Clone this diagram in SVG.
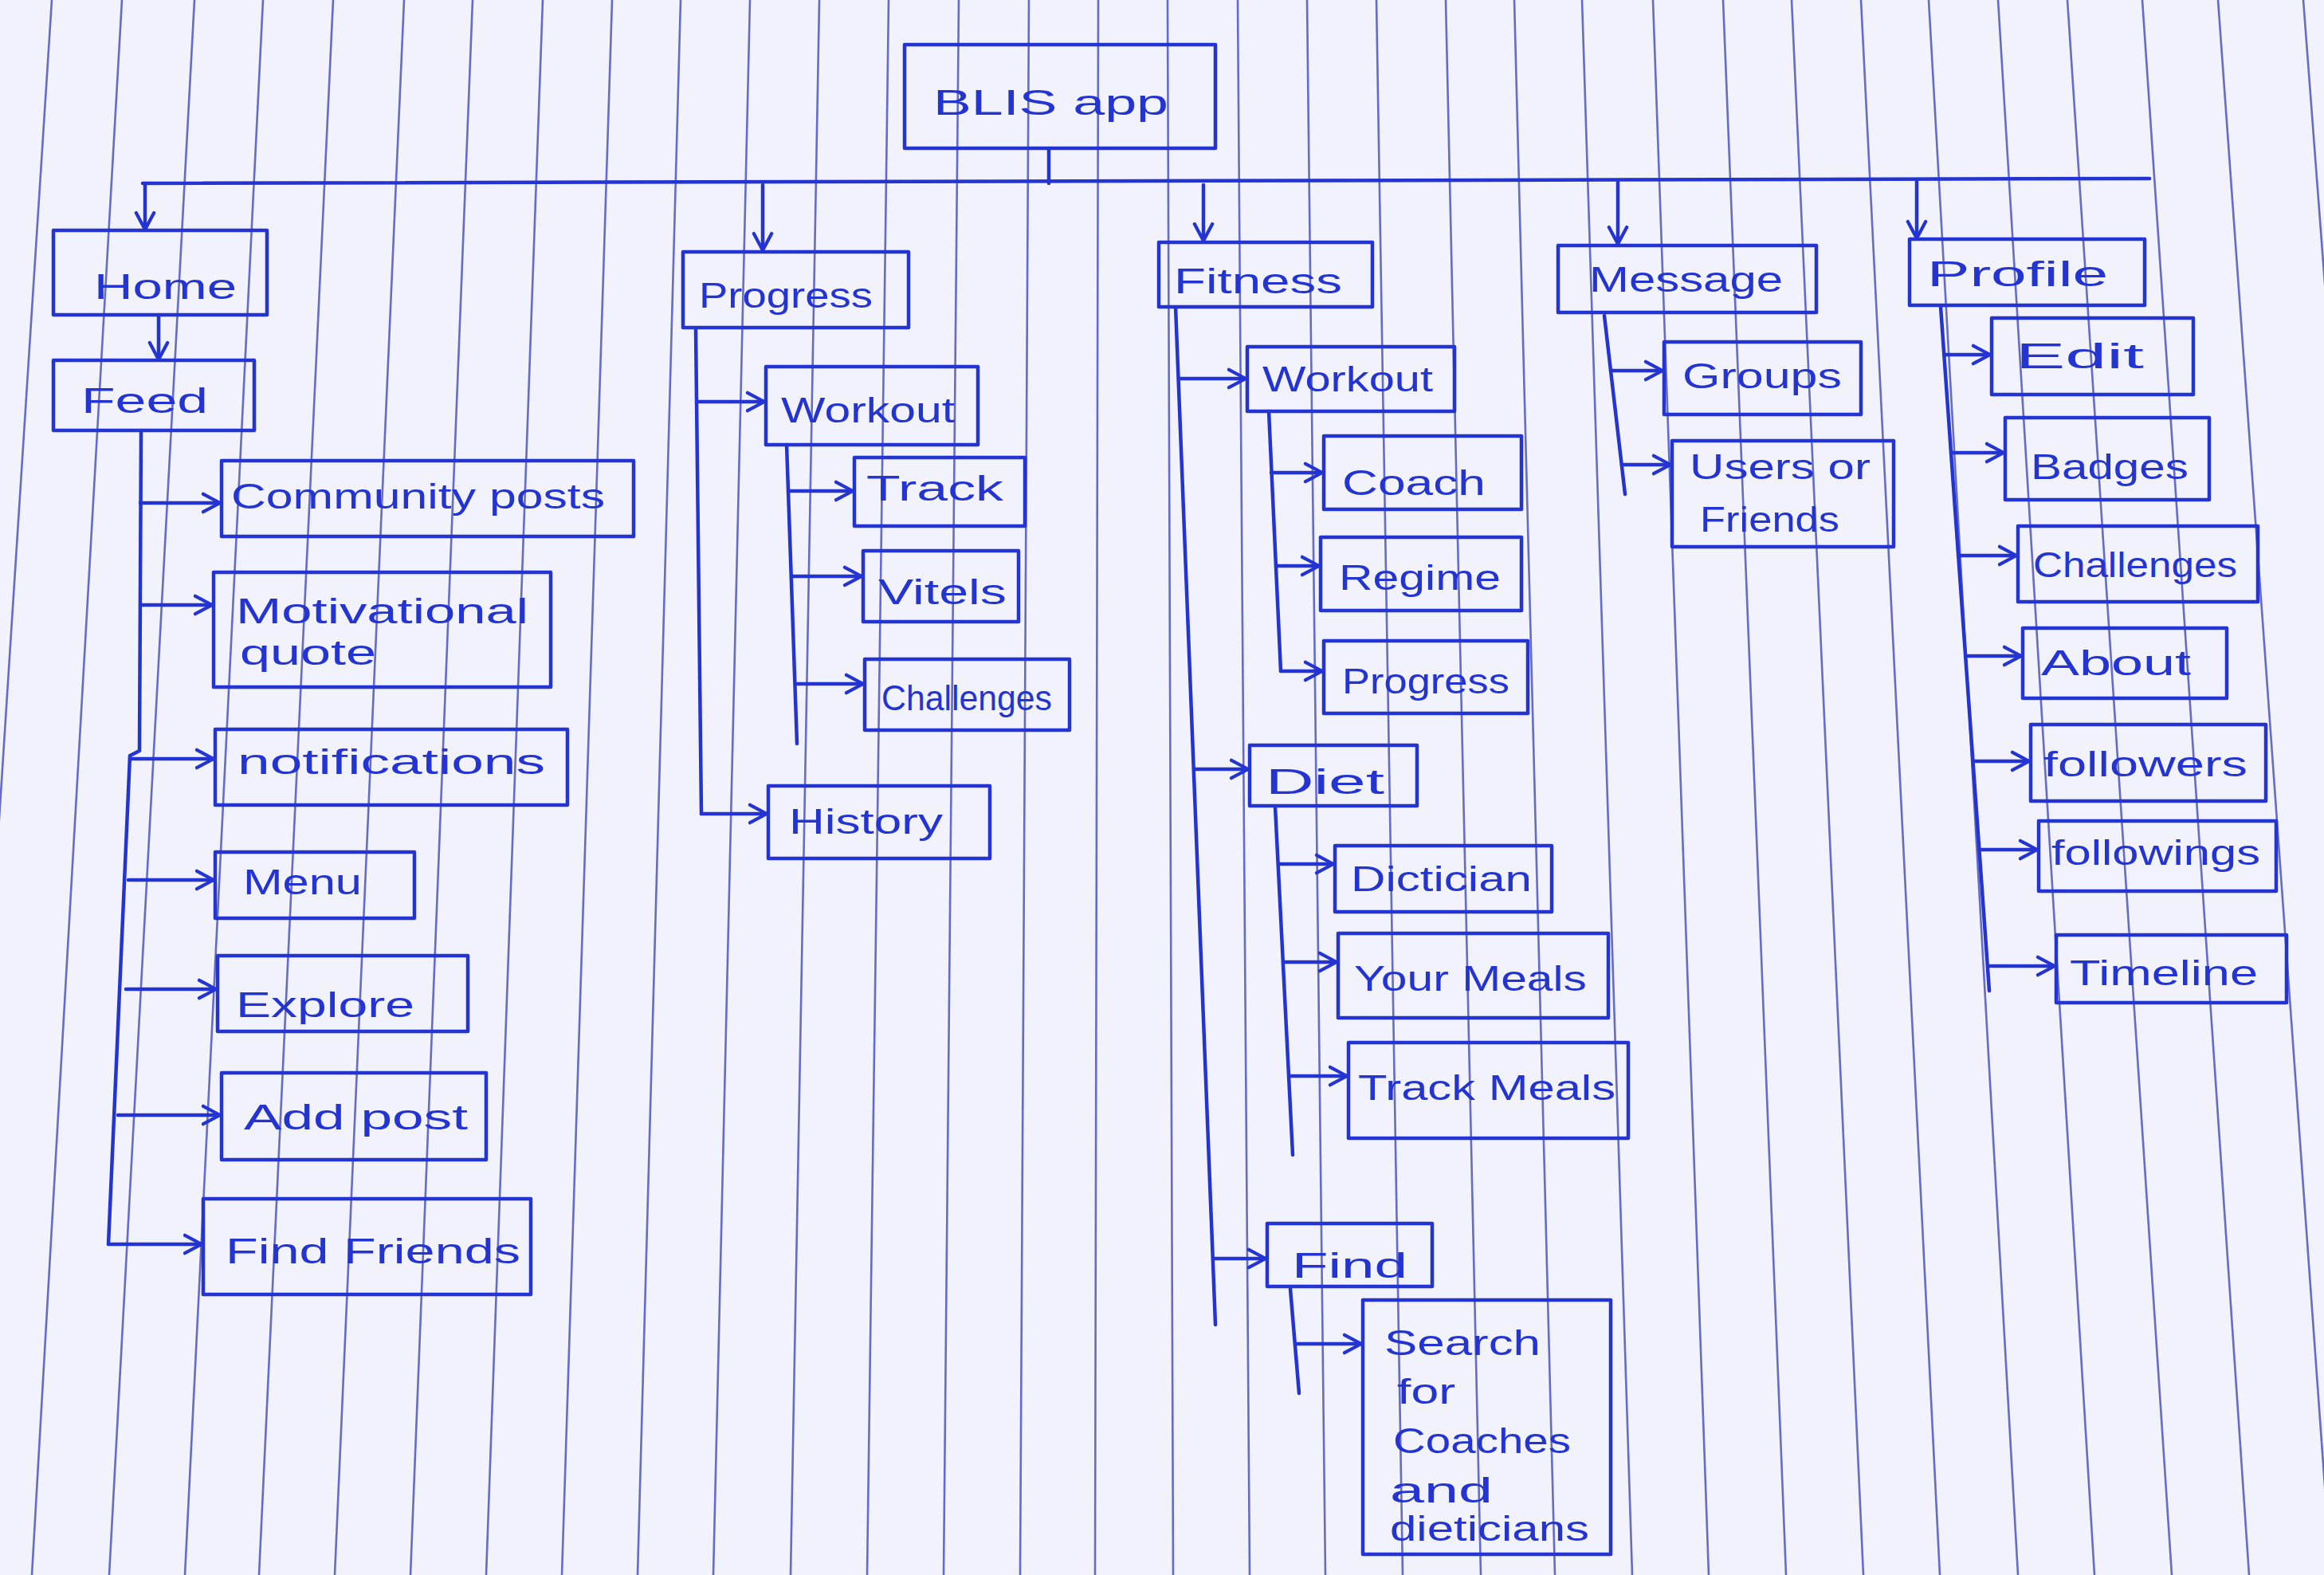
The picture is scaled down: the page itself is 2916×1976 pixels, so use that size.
<svg xmlns="http://www.w3.org/2000/svg" width="2916" height="1976" viewBox="0 0 2916 1976">
<defs>
<style>
.bg{fill:#f1f2fb}
.rule{stroke:#4b54c0;stroke-width:2.6;fill:none;opacity:0.85}
.box{fill:none;stroke:#2434d2;stroke-width:4.5;stroke-linejoin:round}
.t{font-family:"Liberation Sans",Arial,sans-serif;fill:#2434d2;font-size:44px}
.c{fill:none;stroke:#2434d2;stroke-width:4.5;stroke-linecap:round;stroke-linejoin:round}
.a{marker-end:url(#ah)}
</style>
<marker id="ah" viewBox="0 0 20 20" refX="18" refY="10" markerWidth="28" markerHeight="28" markerUnits="userSpaceOnUse" orient="auto">
<path d="M3,2 L18,10 L3,18" fill="none" stroke="#2434d2" stroke-width="3" stroke-linecap="round" stroke-linejoin="round"/>
</marker>
</defs>
<rect class="bg" x="0" y="0" width="2916" height="1976"/>
<g id="paper-rules">
<path class="rule" d="M65,0 L-62,1976 M153,0 L40,1976 M244,0 L137,1976 M330,0 L232,1976 M418,0 L325,1976 M507,0 L420,1976 M593,0 L515,1976 M681,0 L610,1976 M768,0 L705,1976 M854,0 L800,1976 M941,0 L895,1976 M1028,0 L992,1976 M1115,0 L1088,1976 M1203,0 L1184,1976 M1291,0 L1280,1976 M1378,0 L1374,1976 M1465,0 L1472,1976 M1553,0 L1568,1976 M1640,0 L1663,1976 M1727,0 L1760,1976 M1814,0 L1858,1976 M1900,0 L1951,1976 M1985,0 L2048,1976 M2074,0 L2144,1976 M2162,0 L2241,1976 M2248,0 L2338,1976 M2335,0 L2434,1976 M2420,0 L2532,1976 M2507,0 L2628,1976 M2594,0 L2725,1976 M2688,0 L2822,1976 M2783,0 L2925,1976 M2890,0 L3040,1976"/>
</g>
<g id="connectors">
<path class="c" d="M1316,186 L1316,230"/>
<path class="c" d="M179,230 L2697,224"/>
<path class="c a" d="M182,230 L182,288"/>
<path class="c a" d="M957,232 L957,314"/>
<path class="c a" d="M1510,232 L1510,302"/>
<path class="c a" d="M2030,228 L2030,306"/>
<path class="c a" d="M2405,226 L2405,299"/>
<path class="c a" d="M199,395 L199,451"/>
<path class="c" d="M177,540 L175,942 L163,948 L136,1561"/>
<path class="c a" d="M176,631 L276,631"/>
<path class="c a" d="M176,759 L266,759"/>
<path class="c a" d="M163,952 L268,952"/>
<path class="c a" d="M161,1104 L268,1104"/>
<path class="c a" d="M158,1241 L271,1241"/>
<path class="c a" d="M148,1399 L276,1399"/>
<path class="c a" d="M136,1561 L253,1561"/>
<path class="c" d="M873,414 L880,1021"/>
<path class="c a" d="M875,504 L959,504"/>
<path class="c a" d="M880,1021 L962,1021"/>
<path class="c" d="M987,558 L1000,933"/>
<path class="c a" d="M989,616 L1070,616"/>
<path class="c a" d="M993,723 L1081,723"/>
<path class="c a" d="M998,858 L1083,858"/>
<path class="c" d="M1475,385 L1525,1662"/>
<path class="c a" d="M1479,475 L1563,475"/>
<path class="c a" d="M1498,965 L1566,965"/>
<path class="c a" d="M1522,1579 L1588,1579"/>
<path class="c" d="M1592,516 L1607,842"/>
<path class="c a" d="M1595,593 L1659,593"/>
<path class="c a" d="M1601,710 L1655,710"/>
<path class="c a" d="M1607,842 L1659,842"/>
<path class="c" d="M1600,1012 L1622,1449"/>
<path class="c a" d="M1604,1084 L1673,1084"/>
<path class="c a" d="M1610,1207 L1677,1207"/>
<path class="c a" d="M1617,1350 L1690,1350"/>
<path class="c" d="M1619,1617 L1630,1748"/>
<path class="c a" d="M1625,1686 L1708,1686"/>
<path class="c" d="M2013,396 L2039,620"/>
<path class="c a" d="M2021,465 L2086,465"/>
<path class="c a" d="M2035,583 L2096,583"/>
<path class="c" d="M2435,385 L2496,1243"/>
<path class="c a" d="M2439,445 L2497,445"/>
<path class="c a" d="M2448,568 L2514,568"/>
<path class="c a" d="M2457,697 L2530,697"/>
<path class="c a" d="M2466,823 L2536,823"/>
<path class="c a" d="M2476,955 L2546,955"/>
<path class="c a" d="M2483,1066 L2556,1066"/>
<path class="c a" d="M2494,1212 L2578,1212"/>
</g>
<g id="node-blis-app"><rect class="box" x="1135" y="56" width="390" height="130"/><text class="t" x="1171" y="144" font-size="60" textLength="295" lengthAdjust="spacingAndGlyphs">BLIS app</text></g>
<g id="node-home"><rect class="box" x="67" y="289" width="268" height="106"/><text class="t" x="118" y="375" font-size="50" textLength="179" lengthAdjust="spacingAndGlyphs">Home</text></g>
<g id="node-feed"><rect class="box" x="67" y="452" width="252" height="88"/><text class="t" x="102" y="518" font-size="50" textLength="159" lengthAdjust="spacingAndGlyphs">Feed</text></g>
<g id="node-community-posts"><rect class="box" x="278" y="578" width="517" height="95"/><text class="t" x="290" y="638" textLength="469" lengthAdjust="spacingAndGlyphs">Community posts</text></g>
<g id="node-motivational-quote"><rect class="box" x="268" y="718" width="423" height="144"/><text class="t" x="296" y="782" textLength="367" lengthAdjust="spacingAndGlyphs">Motivational</text><text class="t" x="301" y="834" textLength="171" lengthAdjust="spacingAndGlyphs">quote</text></g>
<g id="node-notifications"><rect class="box" x="270" y="915" width="442" height="95"/><text class="t" x="298" y="971" textLength="386" lengthAdjust="spacingAndGlyphs">notifications</text></g>
<g id="node-menu"><rect class="box" x="270" y="1069" width="250" height="83"/><text class="t" x="305" y="1122" font-size="46" textLength="149" lengthAdjust="spacingAndGlyphs">Menu</text></g>
<g id="node-explore"><rect class="box" x="273" y="1199" width="314" height="95"/><text class="t" x="296" y="1276" font-size="46" textLength="224" lengthAdjust="spacingAndGlyphs">Explore</text></g>
<g id="node-add-post"><rect class="box" x="278" y="1346" width="332" height="109"/><text class="t" x="306" y="1417" font-size="46" textLength="281" lengthAdjust="spacingAndGlyphs">Add post</text></g>
<g id="node-find-friends"><rect class="box" x="255" y="1504" width="411" height="120"/><text class="t" x="283" y="1585" font-size="48" textLength="370" lengthAdjust="spacingAndGlyphs">Find Friends</text></g>
<g id="node-progress"><rect class="box" x="857" y="316" width="283" height="95"/><text class="t" x="877" y="386" font-size="48" textLength="218" lengthAdjust="spacingAndGlyphs">Progress</text></g>
<g id="node-progress-workout"><rect class="box" x="961" y="460" width="266" height="98"/><text class="t" x="980" y="530" font-size="42" textLength="218" lengthAdjust="spacingAndGlyphs">Workout</text></g>
<g id="node-track"><rect class="box" x="1072" y="574" width="214" height="86"/><text class="t" x="1087" y="628" font-size="46" textLength="172" lengthAdjust="spacingAndGlyphs">Track</text></g>
<g id="node-vitels"><rect class="box" x="1083" y="691" width="195" height="89"/><text class="t" x="1102" y="758" textLength="161" lengthAdjust="spacingAndGlyphs">Vitels</text></g>
<g id="node-progress-challenges"><rect class="box" x="1085" y="827" width="257" height="89"/><text class="t" x="1106" y="891" font-size="40" textLength="214" lengthAdjust="spacingAndGlyphs">Challenges</text></g>
<g id="node-history"><rect class="box" x="964" y="986" width="278" height="91"/><text class="t" x="990" y="1046" font-size="48" textLength="193" lengthAdjust="spacingAndGlyphs">History</text></g>
<g id="node-fitness"><rect class="box" x="1454" y="304" width="268" height="81"/><text class="t" x="1473" y="368" font-size="46" textLength="211" lengthAdjust="spacingAndGlyphs">Fitness</text></g>
<g id="node-fitness-workout"><rect class="box" x="1565" y="435" width="260" height="81"/><text class="t" x="1584" y="491" font-size="40" textLength="214" lengthAdjust="spacingAndGlyphs">Workout</text></g>
<g id="node-coach"><rect class="box" x="1661" y="547" width="248" height="92"/><text class="t" x="1684" y="621" textLength="180" lengthAdjust="spacingAndGlyphs">Coach</text></g>
<g id="node-regime"><rect class="box" x="1657" y="674" width="252" height="92"/><text class="t" x="1680" y="740" textLength="203" lengthAdjust="spacingAndGlyphs">Regime</text></g>
<g id="node-fitness-progress"><rect class="box" x="1661" y="804" width="256" height="91"/><text class="t" x="1684" y="870" textLength="210" lengthAdjust="spacingAndGlyphs">Progress</text></g>
<g id="node-diet"><rect class="box" x="1568" y="935" width="210" height="76"/><text class="t" x="1588" y="996" font-size="46" textLength="149" lengthAdjust="spacingAndGlyphs">Diet</text></g>
<g id="node-dictician"><rect class="box" x="1675" y="1061" width="272" height="83"/><text class="t" x="1695" y="1118" textLength="227" lengthAdjust="spacingAndGlyphs">Dictician</text></g>
<g id="node-your-meals"><rect class="box" x="1679" y="1171" width="339" height="106"/><text class="t" x="1699" y="1243" font-size="46" textLength="292" lengthAdjust="spacingAndGlyphs">Your Meals</text></g>
<g id="node-track-meals"><rect class="box" x="1692" y="1308" width="351" height="120"/><text class="t" x="1704" y="1380" font-size="46" textLength="323" lengthAdjust="spacingAndGlyphs">Track Meals</text></g>
<g id="node-find"><rect class="box" x="1590" y="1535" width="207" height="79"/><text class="t" x="1621" y="1603" font-size="48" textLength="145" lengthAdjust="spacingAndGlyphs">Find</text></g>
<g id="node-search"><rect class="box" x="1710" y="1631" width="311" height="319"/><text class="t" x="1737" y="1700" textLength="196" lengthAdjust="spacingAndGlyphs">Search</text><text class="t" x="1753" y="1761" textLength="73" lengthAdjust="spacingAndGlyphs">for</text><text class="t" x="1748" y="1823" textLength="223" lengthAdjust="spacingAndGlyphs">Coaches</text><text class="t" x="1744" y="1885" textLength="129" lengthAdjust="spacingAndGlyphs">and</text><text class="t" x="1744" y="1933" textLength="250" lengthAdjust="spacingAndGlyphs">dieticians</text></g>
<g id="node-message"><rect class="box" x="1955" y="308" width="324" height="84"/><text class="t" x="1994" y="366" font-size="46" textLength="243" lengthAdjust="spacingAndGlyphs">Message</text></g>
<g id="node-groups"><rect class="box" x="2088" y="429" width="247" height="91"/><text class="t" x="2111" y="487" textLength="200" lengthAdjust="spacingAndGlyphs">Groups</text></g>
<g id="node-users-or-friends"><rect class="box" x="2098" y="553" width="278" height="133"/><text class="t" x="2120" y="601" font-size="40" textLength="227" lengthAdjust="spacingAndGlyphs">Users or</text><text class="t" x="2133" y="667" font-size="40" textLength="175" lengthAdjust="spacingAndGlyphs">Friends</text></g>
<g id="node-profile"><rect class="box" x="2396" y="300" width="295" height="83"/><text class="t" x="2418" y="359" textLength="227" lengthAdjust="spacingAndGlyphs">Profile</text></g>
<g id="node-edit"><rect class="box" x="2499" y="399" width="253" height="96"/><text class="t" x="2529" y="462" textLength="161" lengthAdjust="spacingAndGlyphs">Edit</text></g>
<g id="node-badges"><rect class="box" x="2516" y="524" width="256" height="103"/><text class="t" x="2548" y="601" font-size="42" textLength="198" lengthAdjust="spacingAndGlyphs">Badges</text></g>
<g id="node-profile-challenges"><rect class="box" x="2532" y="660" width="301" height="95"/><text class="t" x="2551" y="724" font-size="40" textLength="256" lengthAdjust="spacingAndGlyphs">Challenges</text></g>
<g id="node-about"><rect class="box" x="2538" y="788" width="256" height="88"/><text class="t" x="2561" y="847" font-size="42" textLength="188" lengthAdjust="spacingAndGlyphs">About</text></g>
<g id="node-followers"><rect class="box" x="2548" y="909" width="295" height="96"/><text class="t" x="2564" y="974" textLength="256" lengthAdjust="spacingAndGlyphs">followers</text></g>
<g id="node-followings"><rect class="box" x="2558" y="1030" width="298" height="88"/><text class="t" x="2574" y="1085" textLength="262" lengthAdjust="spacingAndGlyphs">followings</text></g>
<g id="node-timeline"><rect class="box" x="2580" y="1173" width="289" height="85"/><text class="t" x="2597" y="1236" textLength="236" lengthAdjust="spacingAndGlyphs">Timeline</text></g>
</svg>
